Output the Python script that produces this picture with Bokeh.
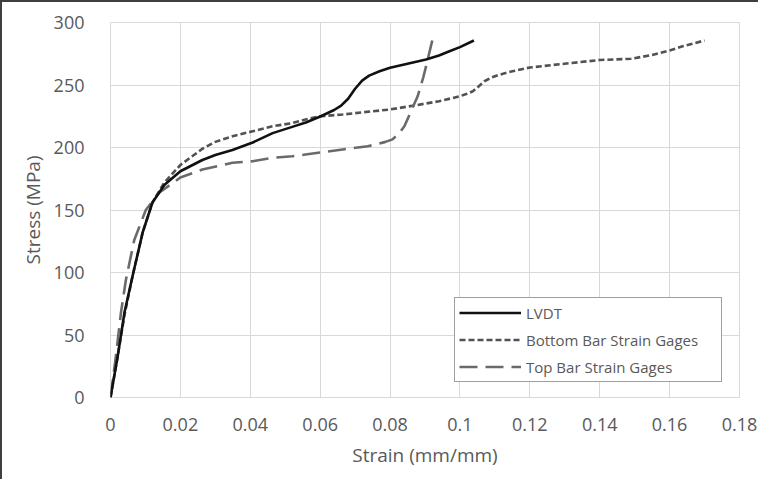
from bokeh.plotting import figure
from bokeh.models import FixedTicker, Legend, LegendItem
from bokeh.embed import file_html
from bokeh.resources import INLINE

# ---------------- data ----------------
lvdt_strain = [0, 0.002, 0.004, 0.0063, 0.0092, 0.012, 0.0154, 0.02, 0.0263, 0.03,
               0.0349, 0.0407, 0.0464, 0.052, 0.0559, 0.0602, 0.064, 0.066, 0.068,
               0.07, 0.072, 0.074, 0.077, 0.08, 0.085, 0.0903, 0.094, 0.097, 0.1, 0.104]
lvdt_stress = [0, 32, 68, 97, 132, 156, 170, 181, 190, 194,
               198, 204, 211.5, 216.5, 220, 225, 230, 233.5, 239,
               247, 253.5, 257.5, 261, 263.8, 267, 270.4, 273.6, 277, 280.3, 285.6]

bottom_strain = [0, 0.002, 0.004, 0.0063, 0.0092, 0.012, 0.0154, 0.02, 0.0263, 0.03,
                 0.0349, 0.0407, 0.0464, 0.052, 0.0558, 0.06, 0.0664, 0.075, 0.08,
                 0.0865, 0.094, 0.1, 0.102, 0.1037, 0.105, 0.107, 0.109, 0.111, 0.115,
                 0.12, 0.1265, 0.14, 0.149, 0.155, 0.16, 0.1637, 0.17]
bottom_stress = [0, 32, 66, 97, 132, 156, 172, 186, 199, 204.5,
                 209, 213, 217, 219.5, 222.4, 225, 226.4, 229, 230.4,
                 233.4, 237, 241, 243, 245, 248, 253, 256, 258, 261,
                 264, 266, 270, 271, 274, 277.6, 281, 285.6]

top_strain = [0, 0.0015, 0.003, 0.0044, 0.0068, 0.0101, 0.014, 0.02, 0.0263, 0.0349,
              0.0407, 0.0464, 0.052, 0.0558, 0.0664, 0.0736, 0.0765, 0.0787, 0.0807,
              0.0825, 0.0841, 0.086, 0.0879, 0.0895, 0.0908, 0.0922]
top_stress = [0, 32, 68, 94, 126, 150, 164, 176, 182.4, 187.8,
              189, 191.8, 193, 194.4, 198.4, 201, 202.8, 204.5, 206.5,
              211, 217, 229, 241, 256, 270.6, 287]

x_ticks = [0, 0.02, 0.04, 0.06, 0.08, 0.1, 0.12, 0.14, 0.16, 0.18]
x_tick_labels = ["0", "0.02", "0.04", "0.06", "0.08", "0.1", "0.12", "0.14", "0.16", "0.18"]
y_ticks = [0, 50, 100, 150, 200, 250, 300]
y_tick_labels = ["0", "50", "100", "150", "200", "250", "300"]

series_names = ["LVDT", "Bottom Bar Strain Gages", "Top Bar Strain Gages"]

# ---------------- figure ----------------
FONT = "Open Sans"
TXT = "#595959"
GRID = "#d9d9d9"

p = figure(width=758, height=479, x_range=(0, 0.18), y_range=(0, 300),
           output_backend="svg", toolbar_location=None,
           min_border_left=108, min_border_right=21,
           min_border_top=20, min_border_bottom=84)
p.styles = {"border-left": "2px solid #3f3f3f", "border-top": "2px solid #3f3f3f"}
p.background_fill_color = "white"
p.border_fill_color = "white"
p.outline_line_color = GRID
p.outline_line_width = 1

p.xaxis.ticker = FixedTicker(ticks=x_ticks)
p.yaxis.ticker = FixedTicker(ticks=y_ticks)
p.xaxis.major_label_overrides = {t: l for t, l in zip(x_ticks, x_tick_labels)}
p.yaxis.major_label_overrides = {t: l for t, l in zip(y_ticks, y_tick_labels)}

for ax in (p.xaxis, p.yaxis):
    ax.axis_line_color = None
    ax.major_tick_line_color = None
    ax.minor_tick_line_color = None
    ax.major_label_text_font = FONT
    ax.major_label_text_font_size = "18px"
    ax.major_label_text_color = TXT
    ax.axis_label_text_font = FONT
    ax.axis_label_text_font_size = "19px"
    ax.axis_label_text_font_style = "normal"
    ax.axis_label_text_color = TXT

p.xaxis.axis_label = "Strain (mm/mm)"
p.yaxis.axis_label = "Stress (MPa)"
p.xaxis.major_label_standoff = 14
p.yaxis.major_label_standoff = 20
p.xaxis.axis_label_standoff = 8
p.yaxis.axis_label_standoff = 5

p.xgrid.grid_line_color = GRID
p.ygrid.grid_line_color = GRID
p.xgrid.grid_line_width = 1
p.ygrid.grid_line_width = 1

r_bottom = p.line(bottom_strain, bottom_stress, line_color="#525252", line_width=2.6,
                  line_dash="6 3", line_join="round")
r_top = p.line(top_strain, top_stress, line_color="#6a6a6a", line_width=2.6,
               line_dash="18 8", line_join="round")
r_lvdt = p.line(lvdt_strain, lvdt_stress, line_color="#111111", line_width=2.6,
                line_join="round")

legend = Legend(items=[LegendItem(label=series_names[0], renderers=[r_lvdt]),
                       LegendItem(label=series_names[1], renderers=[r_bottom]),
                       LegendItem(label=series_names[2], renderers=[r_top])],
                location=(344, 15), margin=0, padding=4, spacing=6,
                glyph_height=21, label_height=21, glyph_width=62, label_standoff=5,
                label_width=191,
                label_text_font=FONT, label_text_font_size="15px",
                label_text_color=TXT,
                border_line_color="#3f3f3f", border_line_width=1.5,
                background_fill_color="white", background_fill_alpha=1.0)
p.add_layout(legend, "center")

open("out.html", "w").write(file_html(p, INLINE))
